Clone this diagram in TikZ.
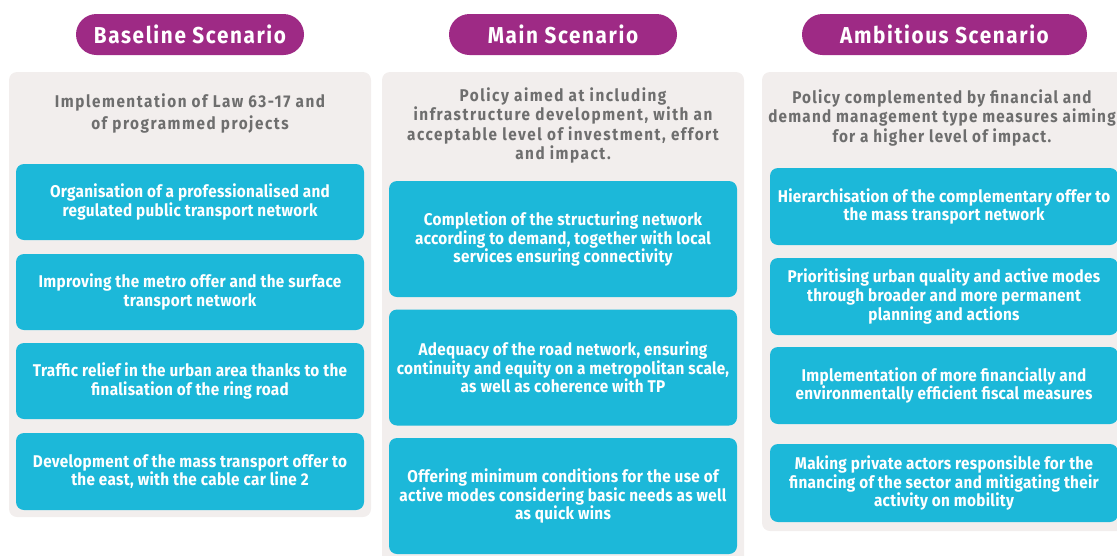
\documentclass[tikz,border=0pt]{standalone}
\usepackage{fontspec}
\setmainfont{Fira Sans}[FakeStretch=0.9]
\definecolor{pillcol}{HTML}{9E2A85}
\definecolor{panelcol}{HTML}{F2EEED}
\definecolor{itemcol}{HTML}{1CB8D9}
\definecolor{headcol}{HTML}{6E6E6E}
\begin{document}
\begin{tikzpicture}[x=1pt,y=-1pt,
            pill/.style={fill=pillcol, rounded corners=20.5pt, minimum width=228pt, minimum height=41pt, inner sep=0pt, text=white, font=\bfseries\fontsize{23}{25}\selectfont\addfontfeature{LetterSpace=7}},
            panel/.style={fill=panelcol, rounded corners=8pt},
            head/.style={text=headcol, align=center, inner sep=0pt, font=\bfseries\fontsize{17}{19.5}\selectfont\addfontfeature{LetterSpace=9}},
            item/.style={fill=itemcol, rounded corners=8pt, text=white, align=center, inner sep=0pt, minimum width=348pt, font=\bfseries\fontsize{17}{18.7}\selectfont\addfontfeature{LetterSpace=1.8}}
            ]
            \useasboundingbox (0,0) rectangle (1117,555);

            % titles
            \node[pill] (t1) at (190,34.5) {Baseline Scenario};
            \node[pill] (t2) at (563,34.5) {Main Scenario};
            \node[pill, minimum width=285pt] (t3) at (944.5,34.5) {Ambitious Scenario};

            % panels
            \fill[panel] (9,72) rectangle (371,517);
            \fill[panel] (382,72) rectangle (744,575);
            \fill[panel] (762,72) rectangle (1126,531);

            \node[head, font=\bfseries\fontsize{17}{22}\selectfont\addfontfeature{LetterSpace=9}] (h1) at (190,113.5) {Implementation of Law 63-17 and\\of programmed projects};
            \node[head] (h2) at (563,125.5) {Policy aimed at including\\infrastructure development, with an\\acceptable level of investment, effort\\and impact.};
            \node[head, font=\bfseries\fontsize{17}{19.5}\selectfont\addfontfeature{LetterSpace=7}] (h3) at (942,117.5) {Policy complemented by financial and\\demand management type measures aiming\\for a higher level of impact.};

            % baseline
            \node[item, minimum height=76pt] (b1) at (190,202) {Organisation of a professionalised and\\regulated public transport network};
            \node[item, minimum height=76pt] (b2) at (190,292) {Improving the metro offer and the surface\\transport network};
            \node[item, minimum height=76pt] (b3) at (190,381) {Traffic relief in the urban area thanks to the\\finalisation of the ring road};
            \node[item, minimum height=77pt] (b4) at (190,471.5) {Development of the mass transport offer to\\the east, with the cable car line 2};

            % main
            \node[item, minimum height=116pt] (c1) at (563,239) {Completion of the structuring network\\according to demand, together with local\\services ensuring connectivity};
            \node[item, minimum height=116pt] (c2) at (563,367.5) {Adequacy of the road network, ensuring\\continuity and equity on a metropolitan scale,\\as well as coherence with TP};
            \node[item, minimum height=116pt] (c3) at (563,496) {Offering minimum conditions for the use of\\active modes considering basic needs as well\\as quick wins};

            % ambitious
            \node[item, minimum height=77pt] (d1) at (944,206.5) {Hierarchisation of the complementary offer to\\the mass transport network};
            \node[item, minimum height=77pt] (d2) at (944,296.5) {Prioritising urban quality and active modes\\through broader and more permanent\\planning and actions};
            \node[item, minimum height=77pt] (d3) at (944,385.5) {Implementation of more financially and\\environmentally efficient fiscal measures};
            \node[item, minimum height=78pt] (d4) at (944,483) {Making private actors responsible for the\\financing of the sector and mitigating their\\activity on mobility};
\end{tikzpicture}
\end{document}
